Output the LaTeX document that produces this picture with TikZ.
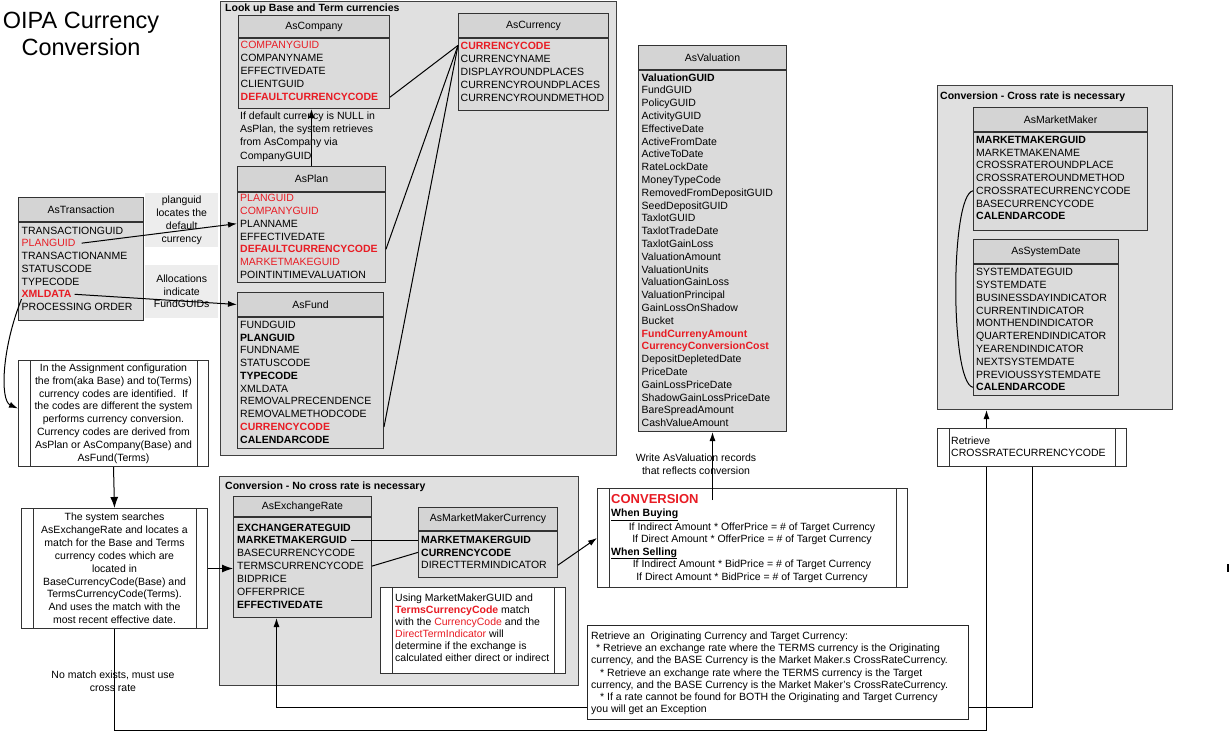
\documentclass[tikz,border=0pt]{standalone}
\usepackage{fontspec}
\setmainfont{Liberation Sans}
\usetikzlibrary{arrows.meta,calc}
\definecolor{rd}{RGB}{232,28,36}
\newcommand\redt[1]{\textcolor{rd}{#1}}
\newcommand\redb[1]{\textcolor{rd}{\bfseries #1}}
\newcommand\bld[1]{\textbf{#1}}
\newcommand\tfont{\fontsize{10.5}{12.8}\selectfont}
\newcommand\tablerows[5]{\foreach \txt [count=\i] in {#5} {\node[row] (#1-\i) at (#2,{#3+(\i-1)*#4}) {\txt};}}
\newcommand\mktable[7]{%
  \node[thead, minimum width=#4, minimum height=#5, anchor=north west] (#1h) at (#2,#3) {#7};
  \node[tbody, minimum width=#4, minimum height=#6, anchor=north west] (#1) at (#1h.south west) {};
  \draw[line width=2pt, black!80] (#1h.south west) -- (#1h.south east);
}
\tikzset{
  thead/.style={draw=black!80, fill=black!17, line width=1pt, inner sep=0pt, font=\tfont},
  tbody/.style={draw=black!80, fill=black!14, line width=1pt, inner sep=0pt},
  row/.style={anchor=base west, inner sep=0pt, font=\tfont},
  crow/.style={anchor=base, inner sep=0pt, font=\tfont},
  grp/.style={draw=black!75, fill=black!12, line width=1pt, inner sep=0pt, anchor=north west},
  gtitle/.style={anchor=base west, inner sep=0pt, font=\tfont\bfseries},
  lbl/.style={fill=black!7, inner sep=0pt, anchor=north west, align=center, font=\tfont},
  proc/.style={draw=black!80, fill=white, line width=1pt, inner sep=0pt, anchor=north west,
    path picture={
      \draw[black!80, line width=1pt] ([xshift=11.5pt]path picture bounding box.north west) -- ([xshift=11.5pt]path picture bounding box.south west);
      \draw[black!80, line width=1pt] ([xshift=-11.5pt]path picture bounding box.north east) -- ([xshift=-11.5pt]path picture bounding box.south east);
    }},
  conn/.style={line width=1pt, black},
  tip/.style={-{Latex[length=9pt,width=6pt]}},
  bigtip/.style={-{Latex[length=11pt,width=8pt]}},
}
\begin{document}
\begin{tikzpicture}[x=1pt,y=-1pt]
\fill[white] (0,0) rectangle (1229,731);
\useasboundingbox (0,0) rectangle (1229,731);

% title
\node[anchor=base, inner sep=0pt, font=\fontsize{23.5}{27}\selectfont] (title1) at (81,28) {OIPA Currency};
\node[anchor=base, inner sep=0pt, font=\fontsize{23.5}{27}\selectfont] (title2) at (81,55) {Conversion};

% groups
\node[grp, minimum width=396, minimum height=454] (g1) at (220,0.5) {};
\node[gtitle] (g1t) at (225,11.7) {Look up Base and Term currencies};
\node[grp, minimum width=359, minimum height=209] (g2) at (219,476) {};
\node[gtitle] (g2t) at (225,489.3) {Conversion - No cross rate is necessary};
\node[grp, minimum width=235, minimum height=324] (g3) at (937,85) {};
\node[gtitle] (g3t) at (940,99.3) {Conversion - Cross rate is necessary};

% tables
\mktable{comp}{238}{15}{151}{22}{70}{AsCompany}
\tablerows{comp}{240.5}{48}{13.2}{\redt{COMPANYGUID},COMPANYNAME,EFFECTIVEDATE,CLIENTGUID,\redb{DEFAULTCURRENCYCODE}}

\mktable{cur}{458}{13}{150}{24}{72}{AsCurrency}
\tablerows{cur}{460.5}{49}{13.2}{\redb{CURRENCYCODE},CURRENCYNAME,DISPLAYROUNDPLACES,CURRENCYROUNDPLACES,CURRENCYROUNDMETHOD}

\tablerows{nl}{240}{119.3}{13.3}{If default currency is NULL in,{AsPlan, the system retrieves},from AsCompany via,CompanyGUID}

\mktable{plan}{237}{166}{148}{25}{90}{AsPlan}
\tablerows{plan}{240}{201.7}{12.77}{\redt{PLANGUID},\redt{COMPANYGUID},PLANNAME,EFFECTIVEDATE,\redb{DEFAULTCURRENCYCODE},\redt{MARKETMAKEGUID},POINTINTIMEVALUATION}

\mktable{fund}{237}{292}{146}{24}{131}{AsFund}
\tablerows{fund}{240}{328.3}{12.78}{FUNDGUID,\bld{PLANGUID},FUNDNAME,STATUSCODE,\bld{TYPECODE},XMLDATA,REMOVALPRECENDENCE,REMOVALMETHODCODE,\redb{CURRENCYCODE},\bld{CALENDARCODE}}

\mktable{tr}{18}{197}{125}{24}{98}{AsTransaction}
\tablerows{tr}{21.5}{234}{12.78}{TRANSACTIONGUID,\redt{PLANGUID},TRANSACTIONANME,STATUSCODE,TYPECODE,\redb{XMLDATA},PROCESSING ORDER}

\mktable{val}{638}{45}{148}{24}{361}{AsValuation}
\tablerows{val}{641.5}{81}{12.8}{\bld{ValuationGUID},FundGUID,PolicyGUID,ActivityGUID,EffectiveDate,ActiveFromDate,ActiveToDate,RateLockDate,MoneyTypeCode,RemovedFromDepositGUID,SeedDepositGUID,TaxlotGUID,TaxlotTradeDate,TaxlotGainLoss,ValuationAmount,ValuationUnits,ValuationGainLoss,ValuationPrincipal,GainLossOnShadow,Bucket,\redb{FundCurrenyAmount},\redb{CurrencyConversionCost},DepositDepletedDate,PriceDate,GainLossPriceDate,ShadowGainLossPriceDate,BareSpreadAmount,CashValueAmount}

\mktable{exch}{233}{496}{138}{20}{100}{AsExchangeRate}
\tablerows{exch}{237}{531}{12.9}{\bld{EXCHANGERATEGUID},\bld{MARKETMAKERGUID},BASECURRENCYCODE,TERMSCURRENCYCODE,BIDPRICE,OFFERPRICE,\bld{EFFECTIVEDATE}}

\mktable{mmc}{418}{507}{139}{23}{46}{AsMarketMakerCurrency}
\tablerows{mmc}{421}{543.3}{12.7}{\bld{MARKETMAKERGUID},\bld{CURRENCYCODE},DIRECTTERMINDICATOR}

\mktable{mm}{973}{107}{174}{24}{98}{AsMarketMaker}
\tablerows{mm}{976}{143.3}{12.78}{\bld{MARKETMAKERGUID},MARKETMAKENAME,CROSSRATEROUNDPLACE,CROSSRATEROUNDMETHOD,CROSSRATECURRENCYCODE,BASECURRENCYCODE,\bld{CALENDARCODE}}

\mktable{sd}{973}{239}{145}{24}{131}{AsSystemDate}
\tablerows{sd}{976}{275.7}{12.8}{SYSTEMDATEGUID,SYSTEMDATE,BUSINESSDAYINDICATOR,CURRENTINDICATOR,MONTHENDINDICATOR,QUARTERENDINDICATOR,YEARENDINDICATOR,NEXTSYSTEMDATE,PREVIOUSSYSTEMDATE,\bld{CALENDARCODE}}

% gray labels
\node[lbl, minimum width=73, minimum height=54] (lb1) at (145,193) {planguid\\locates the\\default\\currency};
\node[lbl, minimum width=73, minimum height=53, font=\fontsize{10.5}{12.5}\selectfont] (lb2) at (145,265) {Allocations\\indicate\\FundGUIDs};

% process boxes
\node[proc, minimum width=190, minimum height=106, align=center, font=\tfont] (p1) at (18,360) {In the Assignment configuration\\the from(aka Base) and to(Terms)\\currency codes are identified.\ \ If\\the codes are different the system\\performs currency conversion.\\Currency codes are derived from\\AsPlan or AsCompany(Base) and\\AsFund(Terms)};
\node[proc, minimum width=186, minimum height=120, align=center, font=\fontsize{10.5}{12.84}\selectfont] (p2) at (21,508) {The system searches\\AsExchangeRate and locates a\\match for the Base and Terms\\currency codes which are\\located in\\BaseCurrencyCode(Base) and\\TermsCurrencyCode(Terms).\\And uses the match with the\\most recent effective date.};

\node[crow] (nm1) at (113,678) {No match exists, must use};
\node[crow] (nm2) at (113,691) {cross rate};

% using box
\node[proc, minimum width=185, minimum height=86] (use) at (380,587) {};
\tablerows{ut}{395}{601.5}{12}{Using MarketMakerGUID and,\redb{TermsCurrencyCode} match,with the \redt{CurrencyCode} and the,\redt{DirectTermIndicator} will,determine if the exchange is,calculated either direct or indirect}

% conversion box
\node[proc, minimum width=310, minimum height=99] (conv) at (597,488) {};
\node[row, font=\fontsize{13}{15}\selectfont\bfseries, text=rd] (convt) at (611,503) {CONVERSION};
\node[row, font=\tfont\bfseries] (cbuy) at (611,516.5) {\underline{When Buying}};
\node[crow] (c1) at (752,530) {If Indirect Amount * OfferPrice = \# of Target Currency};
\node[crow] (c2) at (752,542.5) {If Direct Amount * OfferPrice = \# of Target Currency};
\node[row, font=\tfont\bfseries] (csell) at (611,555) {\underline{When Selling}};
\node[crow] (c3) at (752,567.7) {If Indirect Amount * BidPrice = \# of Target Currency};
\node[crow] (c4) at (752,580) {If Direct Amount * BidPrice = \# of Target Currency};

\node[crow] (wl1) at (696,461) {Write AsValuation records};
\node[crow] (wl2) at (696,474) {that reflects conversion};

% retrieve box
\node[proc, minimum width=189, minimum height=38] (ret) at (937,428) {};
\node[row] (rt1) at (951,444) {Retrieve};
\node[row] (rt2) at (951,456) {CROSSRATECURRENCYCODE};

% bottom text box
\node[draw=black!85, fill=white, line width=1pt, inner sep=0pt, anchor=north west, minimum width=381, minimum height=94] (bt) at (587,625) {};
\node[row] (bt1) at (591,639.5) {Retrieve an\ \ Originating Currency and Target Currency:};
\node[row] (bt2) at (596,651.7) {* Retrieve an exchange rate where the TERMS currency is the Originating};
\node[row] (bt3) at (591,663.9) {currency, and the BASE Currency is the Market Maker.s CrossRateCurrency.};
\node[row] (bt4) at (600,676.1) {* Retrieve an exchange rate where the TERMS currency is the Target};
\node[row] (bt5) at (591,688.3) {currency, and the BASE Currency is the Market Maker's CrossRateCurrency.};
\node[row] (bt6) at (600,700.5) {* If a rate cannot be found for BOTH the Originating and Target Currency};
\node[row] (bt7) at (591,712.7) {you will get an Exception};

% connectors
\coordinate (botA) at (0,730);
\coordinate (botB) at (0,707);
\draw[conn] (cur.west |- cur-1.center) -- (comp.east |- comp-5.center);
\draw[conn] (cur.west |- cur-1.center) -- (plan.east |- plan-5.center);
\draw[conn] (cur.west |- cur-1.center) -- (fund.east |- fund-9.center);
\draw[conn,tip] (planh.north) -- (planh.north |- comp.south);
\draw[conn,tip] ([xshift=6pt]tr-2.east) -- (plan.west |- plan-3.center);
\draw[conn,tip] ([xshift=3pt]tr-6.east) -- (fundh.west);
\draw[conn,tip] ([yshift=-1pt]tr-6.south west) .. controls +(-20,50) and +(-18,-8) .. ([yshift=5pt]p1.west);
\draw[conn,bigtip] (p1.south) -- (p2.north);
\draw[conn,bigtip] (p2.east) -- (p2.east -| exch.west);
\draw[conn] (p2.south) -- (p2.south |- botA) -| ([xshift=-45.5pt]ret.south);
\draw[conn] (ret.south) |- (bt.east |- botB);
\draw[conn,tip] (bt.west |- botB) -| ([xshift=-26pt]exch.south);
\draw[conn,tip] ([xshift=-45.5pt]ret.north) -- ([xshift=-45.5pt]ret.north |- g3.south);
\coordinate (cv) at ($(conv.north -| val.south)+(0,12)$);
\draw[conn,tip] (cv) -- (val.south);
\draw[conn,tip] (mmc.east |- mmc-3.center) -- (conv.west);
\draw[conn] ([xshift=4pt]exch-2.east) -- (mmc.west |- exch-2.center);
\draw[conn] (exch.east |- exch-4.center) -- (mmc.west |- mmc-2.center);
\draw[conn] (mm.west |- mm-5.center) .. controls +(-23,4) and +(-23,-4) .. (sd.west |- sd-10.center);
\draw[line width=1.3pt] (1228,564) -- (1228,572);
\end{tikzpicture}
\end{document}
